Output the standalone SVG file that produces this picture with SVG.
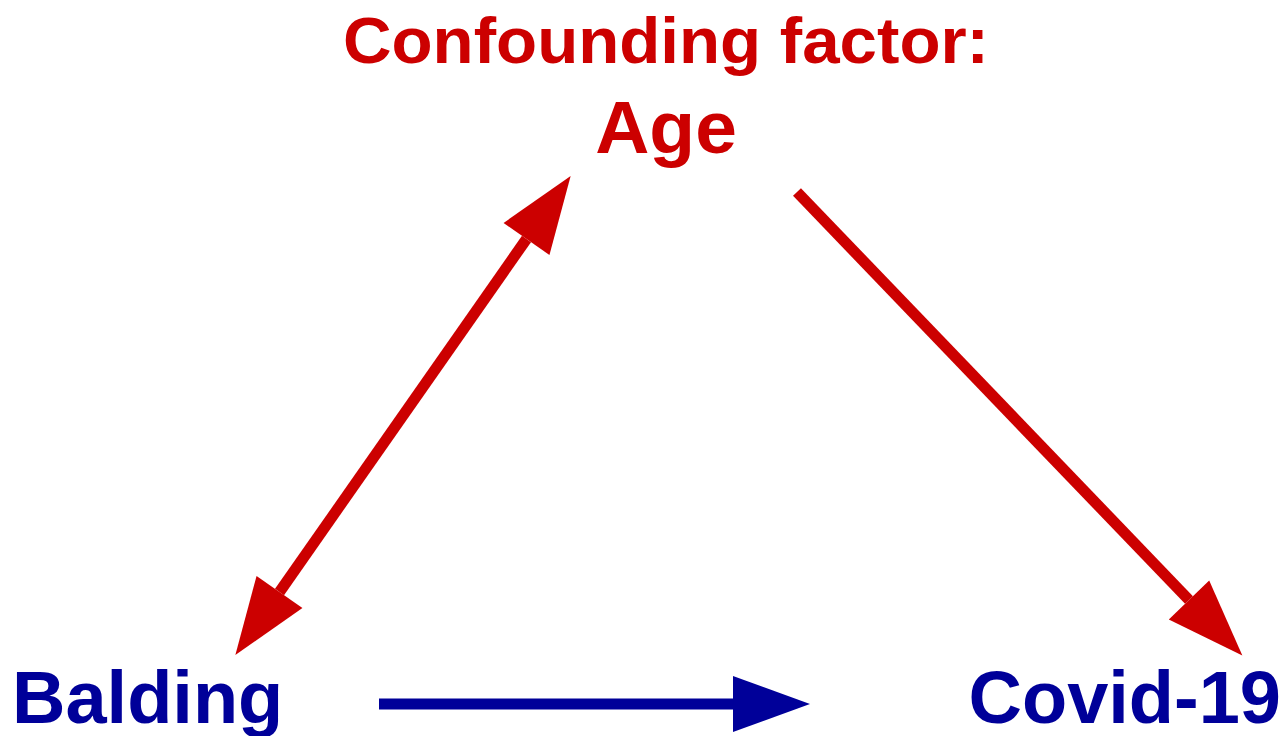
<svg xmlns="http://www.w3.org/2000/svg" width="1286" height="736" viewBox="0 0 1286 736">
  <style>
    text { font-family: "Liberation Sans", Arial, sans-serif; font-weight: bold; }
    .red { fill: #CC0000; }
    .blue { fill: #000099; }
    .link { fill: none; stroke-width: 11; stroke-linecap: butt; }
    .link-red { stroke: #CC0000; }
    .link-blue { stroke: #000099; }
  </style>
  <defs>
    <marker id="head-red" markerUnits="userSpaceOnUse" markerWidth="80" markerHeight="60" refX="0" refY="28" orient="auto-start-reverse" overflow="visible">
      <path d="M0,0 L77,28 L0,56 Z" fill="#CC0000"/>
    </marker>
    <marker id="head-blue" markerUnits="userSpaceOnUse" markerWidth="80" markerHeight="60" refX="0" refY="28" orient="auto" overflow="visible">
      <path d="M0,0 L77,28 L0,56 Z" fill="#000099"/>
    </marker>
  </defs>
  <rect width="1286" height="736" fill="#ffffff"/>

  <g id="connectors">
    <line class="link link-red" x1="279.5" y1="592" x2="526.5" y2="239" marker-start="url(#head-red)" marker-end="url(#head-red)"/>
    <line class="link link-red" x1="797" y1="192" x2="1189" y2="600" marker-end="url(#head-red)"/>
    <line class="link link-blue" x1="379" y1="704" x2="733" y2="704" marker-end="url(#head-blue)"/>
  </g>

  <g id="node-age">
    <text class="red" x="666" y="63" font-size="64" text-anchor="middle" textLength="646" lengthAdjust="spacingAndGlyphs">Confounding factor:</text>
    <text class="red" x="666" y="153" font-size="75" text-anchor="middle">Age</text>
  </g>

  <g id="node-balding">
    <text class="blue" x="12" y="723" font-size="74">Balding</text>
  </g>

  <g id="node-covid">
    <text class="blue" x="1281" y="723" font-size="74" text-anchor="end">Covid-19</text>
  </g>
</svg>
